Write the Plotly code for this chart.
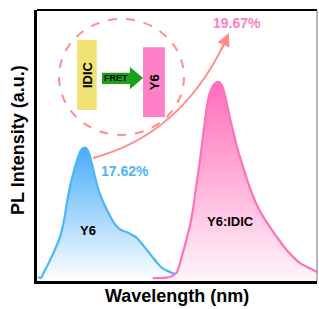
import plotly.graph_objects as go

# Wavelength (nm) and normalized PL intensity
y6_wl = [701, 704, 707.5, 714, 719, 724.6, 729, 732, 735, 739, 742.9, 746.1, 749.3, 752.5, 755.7,
         758.9, 763, 767, 775, 784, 790, 796, 802, 807, 812.5, 818, 823, 829, 834, 840, 848]
y6_int = [0.015, 0.011, 0.033, 0.077, 0.114, 0.162, 0.225, 0.288, 0.343, 0.399, 0.446, 0.476, 0.491,
          0.491, 0.472, 0.432, 0.373, 0.325, 0.262, 0.207, 0.188, 0.181, 0.170, 0.159, 0.137, 0.114,
          0.092, 0.066, 0.048, 0.037, 0.026]

blend_wl = [824, 832, 842.5, 848, 850, 853, 855, 858.6, 860.7, 864, 867, 870, 874.6, 878, 880,
            883.2, 886.4, 889.6, 892.9, 896.1, 899.3, 902.5, 906.8, 911.1, 915.4, 921.8, 928.2,
            934.6, 941.1, 949.6, 957.1, 965.7, 974.3, 981.8, 989.3, 995.7, 1000]
blend_int = [0.011, 0.011, 0.015, 0.026, 0.033, 0.063, 0.089, 0.133, 0.162, 0.207, 0.262, 0.336,
             0.446, 0.539, 0.594, 0.668, 0.705, 0.725, 0.734, 0.732, 0.712, 0.668, 0.601, 0.539,
             0.480, 0.410, 0.343, 0.288, 0.244, 0.199, 0.162, 0.122, 0.089, 0.066, 0.052, 0.041,
             0.033]

labels = ["Y6", "Y6:IDIC"]
plqy = ["17.62%", "19.67%"]

BLUE = "#4cb6f7"
PINK = "#ff72bb"
SALMON = "#ff8f8f"
FONT = "Liberation Sans"

fig = go.Figure()
fig.add_trace(go.Scatter(
    x=y6_wl, y=y6_int, mode="lines", line=dict(color=BLUE, width=2.2, shape="spline", smoothing=0.8),
    fill="tozeroy",
    fillgradient=dict(type="vertical", start=0, stop=0.494,
                      colorscale=[[0, "rgba(255,255,255,1)"], [1, "rgb(70,172,248)"]]),
    showlegend=False, hoverinfo="skip"))
fig.add_trace(go.Scatter(
    x=blend_wl, y=blend_int, mode="lines", line=dict(color=PINK, width=2.2, shape="spline", smoothing=0.8),
    fill="tozeroy",
    fillgradient=dict(type="vertical", start=0, stop=0.734,
                      colorscale=[[0, "rgb(255,245,250)"], [1, "rgb(255,110,185)"]]),
    showlegend=False, hoverinfo="skip"))

shapes = []
# dashed circle
shapes.append(dict(type="circle", xref="x", yref="y", x0=723.6, x1=857.5, y0=0.539, y1=0.967,
                   line=dict(color=SALMON, width=2, dash="dash")))
# IDIC rectangle
shapes.append(dict(type="rect", xref="x", yref="y", x0=743, x1=764, y0=0.631, y1=0.889,
                   fillcolor="#efe272", line=dict(width=0)))
# Y6 rectangle
shapes.append(dict(type="rect", xref="x", yref="y", x0=813.6, x1=837, y0=0.605, y1=0.863,
                   fillcolor="#ff80c6", line=dict(width=0)))
# green FRET arrow
shapes.append(dict(type="path", xref="x", yref="y",
                   path="M 769.6 0.768 L 799.6 0.768 L 799.6 0.790 L 813.6 0.749 L 799.6 0.708 L 799.6 0.727 L 769.6 0.727 Z",
                   fillcolor="#17a21a", line=dict(width=0)))
# curved arrow
shapes.append(dict(type="path", xref="x", yref="y",
                   path="M 760 0.454 Q 853.2 0.539 900.4 0.875",
                   line=dict(color=SALMON, width=2)))
# top and right frame
shapes.append(dict(type="line", xref="paper", yref="paper", x0=0, x1=1, y0=1, y1=1,
                   line=dict(color="black", width=2)))
shapes.append(dict(type="line", xref="paper", yref="paper", x0=1, x1=1, y0=0, y1=1,
                   line=dict(color="#777777", width=1)))

annotations = [
    dict(x=905.5, y=0.915, ax=897, ay=0.85, xref="x", yref="y", axref="x", ayref="y",
         text="", showarrow=True, arrowhead=2, arrowsize=1.3, arrowwidth=2, arrowcolor=SALMON),
    dict(x=914.3, y=0.952, text="<b>" + plqy[1] + "</b>", showarrow=False,
         font=dict(family=FONT, size=14, color="#ff7fc0")),
    dict(x=794, y=0.406, text="<b>" + plqy[0] + "</b>", showarrow=False,
         font=dict(family=FONT, size=14, color=BLUE)),
    dict(x=754.6, y=0.188, text="<b>" + labels[0] + "</b>", showarrow=False,
         font=dict(family=FONT, size=13, color="black")),
    dict(x=906.8, y=0.218, text="<b>" + labels[1] + "</b>", showarrow=False,
         font=dict(family=FONT, size=13, color="black")),
    dict(x=753.6, y=0.760, text="<b>IDIC</b>", textangle=-90, showarrow=False,
         font=dict(family=FONT, size=13, color="black")),
    dict(x=825.4, y=0.734, text="<b>Y6</b>", textangle=-90, showarrow=False,
         font=dict(family=FONT, size=13, color="black")),
    dict(x=784.6, y=0.749, text="<b>FRET</b>", showarrow=False,
         font=dict(family=FONT, size=9, color="black")),
    dict(x=0.5, y=-0.055, xref="paper", yref="paper", xanchor="center", yanchor="middle",
         text="<b>Wavelength (nm)</b>",
         showarrow=False, font=dict(family=FONT, size=18, color="black")),
    dict(x=-0.068, y=0.52, xref="paper", yref="paper", xanchor="center", yanchor="middle",
         text="<b>PL Intensity (a.u.)</b>",
         textangle=-90, showarrow=False, font=dict(family=FONT, size=18, color="black")),
]

fig.update_layout(
    width=319, height=309,
    margin=dict(l=37, r=2, t=10, b=28),
    paper_bgcolor="white", plot_bgcolor="white",
    shapes=shapes, annotations=annotations,
    xaxis=dict(range=[700, 1000], showticklabels=False, ticks="", showgrid=False, zeroline=False,
               showline=True, linecolor="black", linewidth=3),
    yaxis=dict(range=[0, 1], showticklabels=False, ticks="", showgrid=False, zeroline=False,
               showline=True, linecolor="black", linewidth=3),
)

fig.write_html("out.html", config={"displayModeBar": False},
               post_script="document.body.style.margin='0';document.body.style.overflow='hidden';")
